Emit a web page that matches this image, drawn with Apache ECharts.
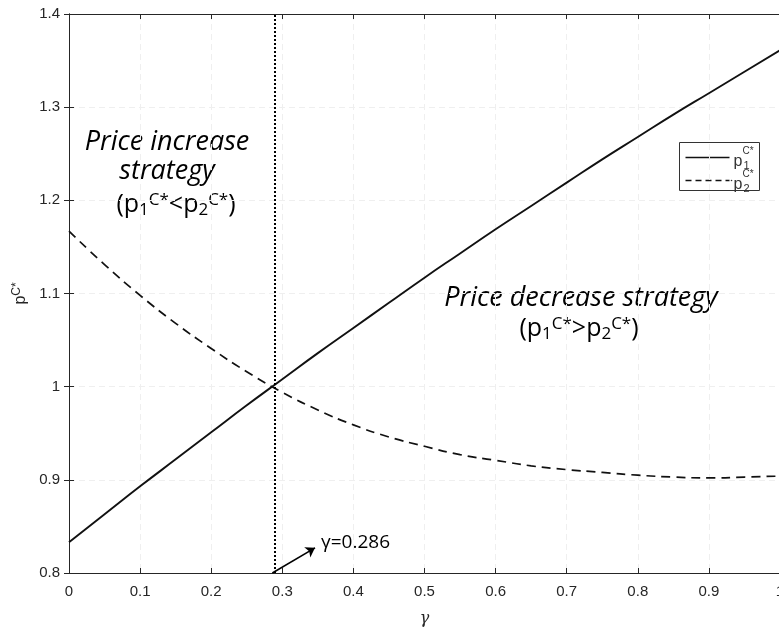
<!DOCTYPE html>
<html>
<head>
<meta charset="utf-8">
<script src="https://cdn.jsdelivr.net/npm/echarts@6/dist/echarts.min.js"></script>
<style>
  html, body { margin: 0; padding: 0; background: #fff; }
  #chart { width: 779px; height: 628px; }
</style>
</head>
<body>
<div id="chart"></div>
<script>
// gamma values on the horizontal axis
const gamma = [0, 0.05, 0.1, 0.15, 0.2, 0.25, 0.3, 0.35, 0.4, 0.45, 0.5,
               0.55, 0.6, 0.65, 0.7, 0.75, 0.8, 0.85, 0.9, 0.95, 1.0];
// optimal price of product 1 (solid curve)
const p1 = [0.833, 0.863, 0.893, 0.922, 0.951, 0.980, 1.008, 1.036, 1.063, 1.090, 1.117,
            1.143, 1.169, 1.194, 1.219, 1.244, 1.268, 1.292, 1.315, 1.338, 1.361];
// optimal price of product 2 (dashed curve)
const p2 = [1.167, 1.131, 1.098, 1.068, 1.041, 1.016, 0.994, 0.975, 0.959, 0.946, 0.936,
            0.927, 0.921, 0.915, 0.911, 0.908, 0.905, 0.903, 0.902, 0.903, 0.904];
// threshold where both prices are equal
const gammaThreshold = 0.286;
const arrowTip = [0.346, 0.827];
const xTicks = ['0', '0.1', '0.2', '0.3', '0.4', '0.5', '0.6', '0.7', '0.8', '0.9', '1'];
const yTicks = ['0.8', '0.9', '1', '1.1', '1.2', '1.3', '1.4'];

const FONT = 'Open Sans';
const AX = '#262626';

const pairs = (ys) => gamma.map((g, i) => [g, ys[i]]);

const chart = echarts.init(document.getElementById('chart'), null, { renderer: 'canvas' });

const baseAxis = {
  axisLine: { show: true, lineStyle: { color: AX, width: 1 } },
  axisTick: { show: true, inside: true, length: 5, lineStyle: { color: AX } },
  splitLine: { show: false }
};

const scriptRich = {
  b: { fontFamily: FONT, fontSize: 25, color: '#000' },
  sub: { fontFamily: FONT, fontSize: 17, color: '#000', padding: [10, 0, 0, 0] },
  sup: { fontFamily: FONT, fontSize: 17, color: '#000', padding: [0, 0, 10, 0] }
};

chart.setOption({
  animation: false,
  backgroundColor: '#fff',
  grid: { left: 69, right: -1, top: 14, bottom: 55, containLabel: false, outerBoundsMode: 'none' },
  xAxis: [
    Object.assign({}, baseAxis, {
      type: 'value', min: 0, max: 1, interval: 0.1,
      position: 'bottom',
      name: 'γ', nameLocation: 'middle', nameGap: 38,
      nameTextStyle: { fontFamily: 'DejaVu Serif', fontStyle: 'italic', fontSize: 16, color: AX },
      axisLabel: {
        fontFamily: 'Liberation Sans', fontSize: 15, color: AX, margin: 11,
        formatter: (v) => xTicks[Math.round(v * 10)]
      },
      splitLine: { show: true, lineStyle: { color: '#efefef', type: [6, 4], width: 1 } }
    }),
    Object.assign({}, baseAxis, {
      type: 'value', min: 0, max: 1, interval: 0.1,
      position: 'top', axisLabel: { show: false }
    })
  ],
  yAxis: [
    Object.assign({}, baseAxis, {
      type: 'value', min: 0.8, max: 1.4, interval: 0.1,
      position: 'left',
      name: '{p|p}{s|C*}', nameLocation: 'middle', nameGap: 33,
      nameTextStyle: {
        rich: {
          p: { fontFamily: 'Liberation Sans', fontSize: 16, color: AX },
          s: { fontFamily: 'Liberation Sans', fontSize: 12, color: AX, padding: [0, 0, 8, 0] }
        }
      },
      axisLabel: {
        fontFamily: 'Liberation Sans', fontSize: 15, color: AX, margin: 9,
        formatter: (v) => yTicks[Math.round((v - 0.8) * 10)]
      },
      splitLine: { show: true, lineStyle: { color: '#efefef', type: [6, 4], width: 1 } }
    }),
    Object.assign({}, baseAxis, {
      type: 'value', min: 0.8, max: 1.4, interval: 0.1,
      position: 'right', axisLabel: { show: false }
    })
  ],
  series: [
    {
      name: 'p1', type: 'line', data: pairs(p1), smooth: true, symbol: 'none',
      lineStyle: { color: '#111', width: 1.9 },
      markLine: {
        silent: true, symbol: 'none',
        label: { show: false },
        lineStyle: { color: '#000', type: [2, 2], width: 2 },
        data: [{ xAxis: gammaThreshold }]
      }
    },
    {
      name: 'p2', type: 'line', data: pairs(p2), smooth: true, symbol: 'none',
      lineStyle: { color: '#111', width: 1.7, type: [9, 6] },
      markLine: {
        silent: true, symbol: ['none', 'arrow'], symbolSize: [9, 9],
        label: { show: false },
        lineStyle: { color: '#000', type: 'solid', width: 1.6 },
        data: [[{ coord: [gammaThreshold, 0.8] }, { coord: arrowTip }]]
      }
    }
  ],
  graphic: [
    // region annotations
    {
      type: 'text', x: 167, y: 142,
      style: {
        text: 'Price increase', fill: '#000', align: 'center', verticalAlign: 'middle',
        font: 'italic 27px "Open Sans"'
      }
    },
    {
      type: 'text', x: 167, y: 171,
      style: {
        text: 'strategy', fill: '#000', align: 'center', verticalAlign: 'middle',
        font: 'italic 27px "Open Sans"'
      }
    },
    {
      type: 'text', x: 176, y: 205,
      style: {
        text: '{b|(p}{sub|1}{sup|C*}{b|<p}{sub|2}{sup|C*}{b|)}',
        align: 'center', verticalAlign: 'middle', rich: scriptRich
      }
    },
    {
      type: 'text', x: 581, y: 298,
      style: {
        text: 'Price decrease strategy', fill: '#000', align: 'center', verticalAlign: 'middle',
        font: 'italic 27px "Open Sans"'
      }
    },
    {
      type: 'text', x: 579, y: 329,
      style: {
        text: '{b|(p}{sub|1}{sup|C*}{b|>p}{sub|2}{sup|C*}{b|)}',
        align: 'center', verticalAlign: 'middle', rich: scriptRich
      }
    },
    {
      type: 'text', x: 321, y: 543,
      style: {
        text: 'γ=0.286', fill: '#000', verticalAlign: 'middle',
        font: '19px "Open Sans"'
      }
    },
    // legend box
    {
      type: 'group', left: 679, top: 142,
      children: [
        { type: 'rect', shape: { x: 0, y: 0, width: 80, height: 48 },
          style: { fill: '#fff', stroke: '#333', lineWidth: 1 } },
        { type: 'line', shape: { x1: 6, y1: 15, x2: 50, y2: 15 },
          style: { stroke: '#111', lineWidth: 1.6 } },
        { type: 'line', shape: { x1: 6, y1: 38, x2: 50, y2: 38 },
          style: { stroke: '#111', lineWidth: 1.6, lineDash: [6, 4] } },
        { type: 'circle', shape: { cx: 52, cy: 38, r: 0.8 }, style: { fill: '#333' } },
        { type: 'text', x: 54, y: 19, style: { text: 'p', font: '16px "Liberation Sans"', fill: '#333', verticalAlign: 'middle' } },
        { type: 'text', x: 63, y: 9, style: { text: 'C*', font: '10px "Liberation Sans"', fill: '#333', verticalAlign: 'middle' } },
        { type: 'text', x: 64, y: 23, style: { text: '1', font: '11px "Liberation Sans"', fill: '#333', verticalAlign: 'middle' } },
        { type: 'text', x: 54, y: 42, style: { text: 'p', font: '16px "Liberation Sans"', fill: '#333', verticalAlign: 'middle' } },
        { type: 'text', x: 63, y: 32, style: { text: 'C*', font: '10px "Liberation Sans"', fill: '#333', verticalAlign: 'middle' } },
        { type: 'text', x: 64, y: 46, style: { text: '2', font: '11px "Liberation Sans"', fill: '#333', verticalAlign: 'middle' } }
      ]
    }
  ]
});
</script>
</body>
</html>
